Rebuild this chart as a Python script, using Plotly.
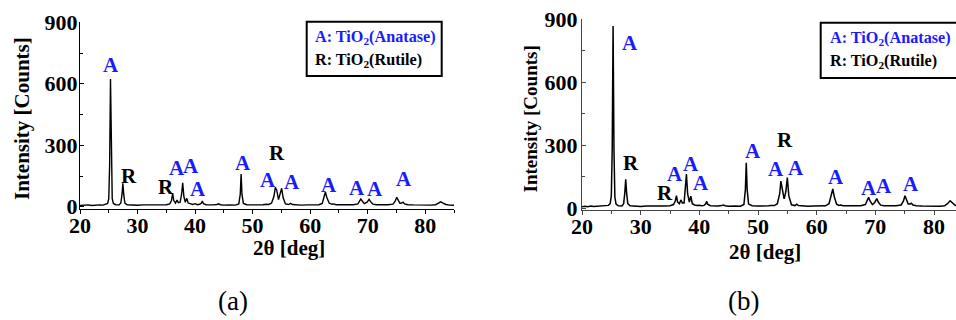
import plotly.graph_objects as go

# ---------------- data ----------------
two_theta_a = [20.0, 20.5, 21.0, 21.5, 22.0, 22.5, 23.0, 23.5, 24.0, 24.5, 24.8, 25.0, 25.15, 25.3, 25.45, 25.6, 25.8,
               26.2, 26.8, 27.1, 27.3, 27.45, 27.6, 27.8, 28.2, 29.0, 30.0, 31.0, 32.0, 33.0, 34.0, 35.0, 35.6,
               35.9, 36.1, 36.3, 36.6, 36.85, 37.1, 37.4, 37.65, 37.85, 38.05, 38.3, 38.55, 38.8, 39.2, 39.6,
               40.0, 40.4, 40.8, 41.1, 41.25, 41.45, 41.9, 42.5, 43.2, 43.8, 44.1, 44.4, 45.0, 46.0, 47.0, 47.6,
               47.85, 48.0, 48.15, 48.4, 49.0, 50.0, 51.0, 51.8, 52.3, 52.8, 53.3, 53.7, 53.95, 54.2, 54.5,
               54.75, 55.05, 55.3, 55.7, 56.3, 56.6, 56.9, 57.5, 58.5, 59.5, 60.5, 61.5, 62.1, 62.45, 62.65,
               62.9, 63.3, 63.8, 64.1, 64.5, 65.5, 66.5, 67.5, 68.3, 68.6, 68.8, 69.05, 69.4, 69.9, 70.25, 70.5,
               70.9, 71.5, 72.5, 73.5, 74.4, 74.8, 75.05, 75.3, 75.6, 75.9, 76.15, 76.4, 77.0, 78.0, 79.0, 80.0,
               81.0, 81.8, 82.3, 82.7, 83.1, 83.6, 84.2, 85.0]
counts_a = [6, 8, 7, 9, 6, 8, 7, 9, 8, 11, 16, 40, 200, 623, 200, 40, 16,
            10, 9, 18, 60, 114, 60, 18, 10, 8, 7, 9, 8, 7, 9, 10, 14,
            30, 65, 30, 18, 33, 20, 22, 60, 117, 50, 22, 41, 18, 14, 11,
            15, 10, 12, 18, 28, 15, 10, 8, 9, 11, 14, 10, 8, 9, 8, 14,
            60, 160, 60, 16, 10, 9, 8, 10, 12, 11, 18, 50, 95, 80, 35,
            60, 90, 45, 14, 11, 17, 11, 9, 8, 9, 8, 10, 16, 45, 72,
            45, 18, 12, 14, 10, 9, 8, 10, 14, 30, 38, 28, 15, 22, 36, 25,
            13, 10, 9, 10, 13, 28, 46, 30, 17, 18, 22, 14, 10, 9, 8, 9,
            8, 10, 16, 24, 18, 11, 8, 7]

two_theta_b = [20.0, 20.5, 21.0, 21.5, 22.0, 22.5, 23.0, 23.5, 24.0, 24.5, 24.8, 25.0, 25.15, 25.3, 25.45, 25.6, 25.8,
               26.2, 26.8, 27.1, 27.3, 27.45, 27.6, 27.8, 28.2, 29.0, 30.0, 31.0, 32.0, 33.0, 34.0, 35.0, 35.6,
               35.9, 36.1, 36.3, 36.6, 36.85, 37.1, 37.4, 37.6, 37.8, 38.0, 38.3, 38.55, 38.8, 39.2, 39.6,
               40.0, 40.4, 40.8, 41.1, 41.25, 41.45, 41.9, 42.5, 43.2, 43.8, 44.1, 44.4, 45.0, 46.0, 47.0, 47.6,
               47.85, 48.0, 48.15, 48.4, 49.0, 50.0, 51.0, 51.8, 52.3, 52.8, 53.3, 53.7, 53.9, 54.15, 54.45,
               54.75, 55.0, 55.25, 55.7, 56.3, 56.6, 56.9, 57.5, 58.5, 59.5, 60.5, 61.5, 62.1, 62.5, 62.75,
               63.0, 63.4, 63.8, 64.1, 64.5, 65.5, 66.5, 67.5, 68.3, 68.6, 68.85, 69.1, 69.5, 69.9, 70.25, 70.5,
               70.9, 71.5, 72.5, 73.5, 74.4, 74.8, 75.05, 75.3, 75.6, 75.9, 76.15, 76.4, 77.0, 78.0, 79.0, 80.0,
               81.0, 81.8, 82.3, 82.75, 83.1, 83.6, 84.2, 85.0]
counts_b = [8, 10, 8, 11, 9, 10, 8, 11, 10, 14, 22, 60, 280, 868, 280, 55, 20,
            12, 11, 22, 75, 138, 75, 22, 12, 10, 9, 11, 10, 9, 11, 12, 18,
            35, 60, 30, 22, 40, 25, 25, 80, 163, 70, 30, 58, 22, 16, 13,
            15, 12, 14, 22, 33, 18, 12, 10, 11, 13, 16, 12, 10, 11, 10, 18,
            90, 217, 90, 20, 12, 11, 10, 12, 14, 13, 22, 70, 130, 95, 45,
            80, 146, 60, 17, 13, 20, 13, 11, 10, 11, 10, 12, 22, 60, 92,
            55, 20, 14, 16, 12, 11, 10, 12, 18, 40, 52, 35, 18, 28, 46, 30,
            15, 12, 11, 12, 16, 35, 60, 38, 20, 20, 24, 16, 12, 11, 10, 11,
            10, 12, 22, 36, 26, 14, 10, 9]

# peak labels: (text, 2theta position, intensity position)
labels_a_text = ["A", "R", "R", "A", "A", "A", "A", "R", "A", "A", "A", "A", "A", "A"]
labels_a_x = [25.4, 28.6, 34.9, 36.8, 39.3, 40.5, 48.3, 54.3, 52.6, 56.9, 63.2, 68.2, 71.2, 76.3]
labels_a_y = [692, 150, 98, 190, 200, 86, 212, 260, 130, 122, 104, 90, 88, 134]

labels_b_text = ["A", "R", "R", "A", "A", "A", "A", "R", "A", "A", "A", "A", "A", "A"]
labels_b_x = [28.1, 28.35, 34.2, 35.9, 38.5, 40.2, 49.2, 54.6, 53.0, 56.5, 63.3, 68.9, 71.5, 76.0]
labels_b_y = [789, 214, 71, 163, 211, 119, 273, 325, 187, 193, 150, 95, 108, 114]

y_ticks = [0, 300, 600, 900]
x_ticks = [20, 30, 40, 50, 60, 70, 80]
legend_lines = ["A: TiO<sub>2</sub>(Anatase)", "R: TiO<sub>2</sub>(Rutile)"]
captions = ["(a)", "(b)"]

# ---------------- figure ----------------
W, H = 956, 320
BLUE = "#1a1aff"
SERIF = "Liberation Serif"


def px(x):
    return x / W


def py(y):
    return 1 - y / H


def b(s):
    return "<b>" + s + "</b>"


fig = go.Figure()
fig.add_trace(go.Scatter(x=two_theta_a, y=counts_a, mode="lines", xaxis="x", yaxis="y",
                         line=dict(color="black", width=1.4), showlegend=False))
fig.add_trace(go.Scatter(x=two_theta_b, y=counts_b, mode="lines", xaxis="x2", yaxis="y2",
                         line=dict(color="black", width=1.5), showlegend=False))

tickfont = dict(family=SERIF, size=22, color="black")


def xaxis_cfg(domain, rng, anchor, color):
    return dict(domain=domain, range=rng, anchor=anchor, tickmode="array", tickvals=x_ticks,
                ticktext=[b(str(v)) for v in x_ticks], ticks="outside", ticklen=4,
                tickwidth=1.2, tickcolor=color, showline=True, linecolor=color, linewidth=1.3,
                showgrid=False, zeroline=False, tickfont=tickfont, automargin=False,
                ticklabelstandoff=-8,
                minor=dict(ticks="outside", dtick=5, ticklen=3, tickcolor=color, tickwidth=1))


def yaxis_cfg(domain, rng, anchor, color, standoff):
    return dict(domain=domain, range=rng, anchor=anchor, tickmode="array", tickvals=y_ticks,
                ticktext=[b(str(v)) for v in y_ticks], ticks="inside", ticklen=4,
                tickwidth=1.2, tickcolor=color, showline=True, linecolor=color, linewidth=1.3,
                showgrid=False, zeroline=False, tickfont=tickfont, automargin=False,
                ticklabelstandoff=standoff,
                minor=dict(ticks="inside", dtick=150, ticklen=3, tickcolor=color, tickwidth=1))


fig.update_layout(
    width=W, height=H, margin=dict(l=0, r=0, t=0, b=0, autoexpand=False),
    paper_bgcolor="white", plot_bgcolor="white",
    xaxis=xaxis_cfg([px(80), px(454)], [20, 85], "y", "black"),
    yaxis=yaxis_cfg([py(209), py(22.3)], [-11, 900], "x", "black", -3),
    xaxis2=xaxis_cfg([px(582), 1.0], [20, 83.75], "y2", "#444444"),
    yaxis2=yaxis_cfg([py(210), py(19.3)], [-8, 900], "x2", "#444444", -1),
)

ann = []
lab_font = dict(family=SERIF, size=21)
for t, x, y in zip(labels_a_text, labels_a_x, labels_a_y):
    ann.append(dict(text=b(t), x=x, y=y, xref="x", yref="y", showarrow=False,
                    xanchor="center", yanchor="middle",
                    font=dict(lab_font, color=BLUE if t == "A" else "black")))
for t, x, y in zip(labels_b_text, labels_b_x, labels_b_y):
    ann.append(dict(text=b(t), x=x, y=y, xref="x2", yref="y2", showarrow=False,
                    xanchor="center", yanchor="middle",
                    font=dict(lab_font, color=BLUE if t == "A" else "black")))


def paper_text(text, x, y, font, xanchor="center", angle=0):
    return dict(text=text, x=px(x), y=py(y), xref="paper", yref="paper", showarrow=False,
                xanchor=xanchor, yanchor="middle", textangle=angle, font=font)


title_font = dict(family=SERIF, size=21, color="black")
# axis titles
ann.append(paper_text(b("2θ [deg]"), 289, 248, title_font))
ann.append(paper_text(b("Intensity [Counts]"), 22, 119, title_font, angle=-90))
ann.append(paper_text(b("2θ [deg]"), 765, 251.5, title_font))
ann.append(paper_text(b("Intensity [Counts]"), 530, 119.5, dict(title_font, size=19), angle=-90))

# legends
leg_font = dict(family=SERIF, size=16.2)
ann.append(paper_text(b(legend_lines[0]), 313, 37.7, dict(leg_font, color=BLUE), xanchor="left"))
ann.append(paper_text(b(legend_lines[1]), 313, 60, dict(leg_font, color="black"), xanchor="left"))
ann.append(paper_text(b(legend_lines[0]), 828, 39, dict(leg_font, color=BLUE), xanchor="left"))
ann.append(paper_text(b(legend_lines[1]), 828, 61, dict(leg_font, color="black"), xanchor="left"))

# captions
cap_font = dict(family=SERIF, size=27, color="black")
ann.append(paper_text(captions[0], 233, 301, cap_font))
ann.append(paper_text(captions[1], 743, 301, cap_font))

fig.update_layout(annotations=ann)

fig.update_layout(shapes=[
    dict(type="rect", xref="paper", yref="paper", x0=px(306.7), x1=px(441.7), y0=py(76), y1=py(21.7),
         line=dict(color="black", width=2)),
    dict(type="rect", xref="paper", yref="paper", x0=px(820.7), x1=px(975), y0=py(78), y1=py(22.7),
         line=dict(color="black", width=2)),
])

fig.write_html("out.html", config={"displayModeBar": False},
               post_script="document.body.style.margin='0px';document.body.style.overflow='hidden';")
